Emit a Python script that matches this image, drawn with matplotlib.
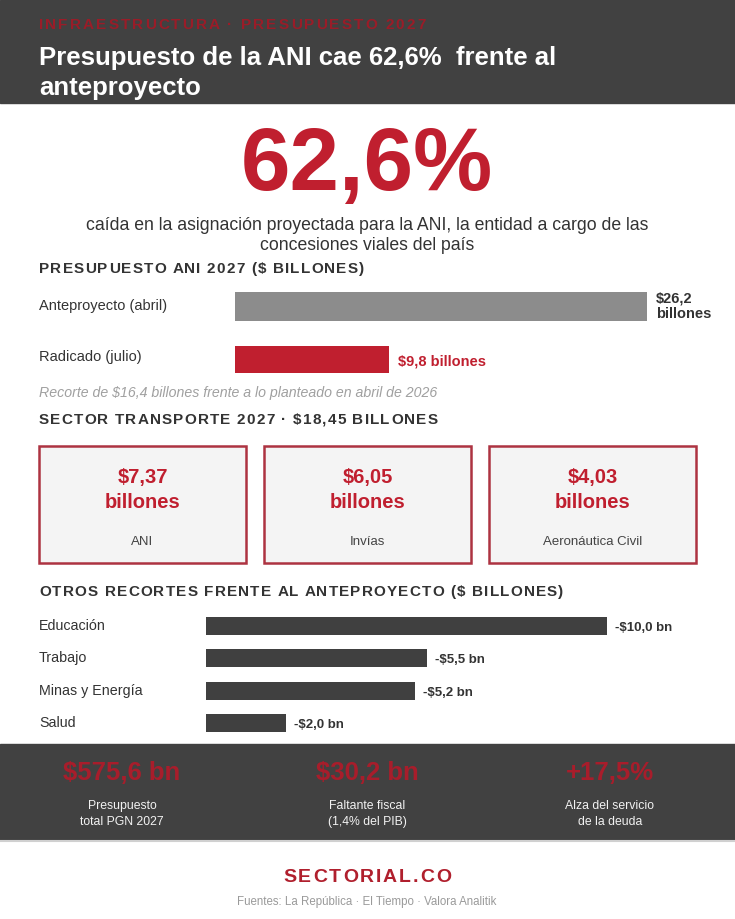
"""Infografía: presupuesto ANI 2027 frente al anteproyecto."""
import matplotlib
matplotlib.use("Agg")
import matplotlib.pyplot as plt
from matplotlib.patches import Rectangle
from matplotlib.transforms import blended_transform_factory
from matplotlib.font_manager import FontProperties

plt.rcParams["font.family"] = ["Liberation Sans", "DejaVu Sans"]

# --- datos ---
ani_labels = ["Anteproyecto (abril)", "Radicado (julio)"]
ani_values = [26.2, 9.8]
ani_texts = ["$26,2\nbillones", "$9,8 billones"]

transporte_values = ["$7,37", "$6,05", "$4,03"]
transporte_labels = ["ANI", "Invías", "Aeronáutica Civil"]

recorte_labels = ["Educación", "Trabajo", "Minas y Energía", "Salud"]
recorte_values = [10.0, 5.5, 5.2, 2.0]
recorte_texts = ["-$10,0 bn", "-$5,5 bn", "-$5,2 bn", "-$2,0 bn"]

kpi_values = ["$575,6 bn", "$30,2 bn", "+17,5%"]
kpi_labels = ["Presupuesto\ntotal PGN 2027", "Faltante fiscal\n(1,4% del PIB)",
              "Alza del servicio\nde la deuda"]

RED = "#c01f2f"
DARK = "#414141"
TXT = "#333333"

W, H = 735, 919
fig = plt.figure(figsize=(W / 100, H / 100), dpi=100)
bg = fig.add_axes([0, 0, 1, 1])
bg.set_xlim(0, W)
bg.set_ylim(H, 0)
bg.axis("off")
renderer = fig.canvas.get_renderer()


def px_axes(x0, y0, x1, y1):
    """Axes placed by pixel box (top-left origin)."""
    a = fig.add_axes([x0 / W, 1 - y1 / H, (x1 - x0) / W, (y1 - y0) / H])
    a.axis("off")
    return a


def spaced(x, y, s, sp, size, weight="normal", color=TXT, ha="left"):
    """Letter-spaced text, drawn one glyph at a time."""
    prop = FontProperties(family=plt.rcParams["font.family"], size=size, weight=weight)
    bar_w = renderer.get_text_width_height_descent("|", prop, ismath=False)[0]

    def width(t):
        return renderer.get_text_width_height_descent(t + "|", prop, ismath=False)[0] - bar_w

    total = width(s) + sp * (len(s) - 1)
    x0 = x - total / 2 if ha == "center" else x
    for i, c in enumerate(s):
        if c != " ":
            bg.text(x0 + width(s[:i]) + i * sp, y, c, color=color, fontproperties=prop,
                    va="center")


# --- cabecera ---
bg.add_patch(Rectangle((0, 0), W, 103, color=DARK, zorder=0))
spaced(39, 25, "INFRAESTRUCTURA · PRESUPUESTO 2027", 2.1, 11, "bold", "#9a1c28")
bg.text(39, 58, "Presupuesto de la ANI cae 62,6%  frente al", color="white",
        fontsize=18.5, fontweight="bold", va="center")
bg.text(39, 88, "anteproyecto", color="white", fontsize=18.5, fontweight="bold",
        va="center")

bg.text(367, 167, "62,6%", color=RED, fontsize=64, fontweight="bold",
        ha="center", va="center")
bg.text(367, 225, "caída en la asignación proyectada para la ANI, la entidad a cargo de las",
        color=TXT, fontsize=12.7, ha="center", va="center")
bg.text(367, 245, "concesiones viales del país", color=TXT, fontsize=12.7,
        ha="center", va="center")

# --- presupuesto ANI ---
spaced(39, 269, "PRESUPUESTO ANI 2027 ($ BILLONES)", 1.2, 11, "bold")
ax1 = px_axes(235, 292, 647, 374)
h1 = 0.547
ax1.set_xlim(0, ani_values[0])
ax1.set_ylim(1 + h1 / 2, -h1 / 2)
ax1.barh([0, 1], ani_values, height=[h1, 0.5], color=["#8c8c8c", RED])
lab_tr1 = blended_transform_factory(bg.transData, ax1.transData)
for i, (lab, v, t) in enumerate(zip(ani_labels, ani_values, ani_texts)):
    ax1.text(39, i - 0.04 * i, lab, color=TXT, fontsize=10.5, va="center",
             transform=lab_tr1)
    ax1.text(v + 0.55, i + 0.04 * i, t, color=TXT if i == 0 else RED,
             fontsize=10.5, fontweight="bold", va="center", linespacing=1.15)

bg.text(39, 393, "Recorte de $16,4 billones frente a lo planteado en abril de 2026",
        color="#a0a0a0", fontsize=10.2, style="italic", va="center")

# --- sector transporte ---
spaced(39, 420, "SECTOR TRANSPORTE 2027 · $18,45 BILLONES", 1.2, 11, "bold")
for i, (val, lab) in enumerate(zip(transporte_values, transporte_labels)):
    x0 = 39 + i * 225
    bg.add_patch(Rectangle((x0, 446), 207, 117, facecolor="#f4f4f4",
                           edgecolor="#ad3341", linewidth=1.8))
    cx = x0 + 103.5
    bg.text(cx, 478, val, color=RED, fontsize=14.5, fontweight="bold",
            ha="center", va="center")
    bg.text(cx, 503, "billones", color=RED, fontsize=14.5, fontweight="bold",
            ha="center", va="center")
    bg.text(cx, 542, lab, color="#444444", fontsize=9.5, ha="center", va="center")

# --- otros recortes ---
spaced(39, 592, "OTROS RECORTES FRENTE AL ANTEPROYECTO ($ BILLONES)", 1.2, 11, "bold")
ax2 = px_axes(206, 617, 607, 732)
h2 = 0.557
n = len(recorte_values)
ax2.set_xlim(0, recorte_values[0])
ax2.set_ylim(n - 1 + h2 / 2, -h2 / 2)
ax2.barh(range(n), recorte_values, height=h2, color="#404040")
lab_tr2 = blended_transform_factory(bg.transData, ax2.transData)
for i, (lab, v, t) in enumerate(zip(recorte_labels, recorte_values, recorte_texts)):
    ax2.text(39, i, lab, color=TXT, fontsize=10.3, va="center", transform=lab_tr2)
    ax2.text(v + 0.2, i + 0.06, t, color=TXT, fontsize=9.5, fontweight="bold",
             va="center")

# --- franja inferior ---
bg.add_patch(Rectangle((0, 744), W, 96, color=DARK, zorder=0))
bg.plot([0, W], [841, 841], color="#d0d0d0", linewidth=1.5)
for cx, val, lab in zip([122, 367, 610], kpi_values, kpi_labels):
    bg.text(cx, 773, val, color="#a81d2b", fontsize=18.5, fontweight="bold",
            ha="center", va="center")
    bg.text(cx, 814, lab, color="#f2f2f2", fontsize=8.8, ha="center", va="center",
            linespacing=1.35)

spaced(367, 877, "SECTORIAL.CO", 1.9, 14, "bold", "#b01f2d", ha="center")
bg.text(367, 902, "Fuentes: La República · El Tiempo · Valora Analitik", color="#9a9a9a",
        fontsize=8.3, ha="center", va="center")

fig.savefig("out.png", dpi=100)
